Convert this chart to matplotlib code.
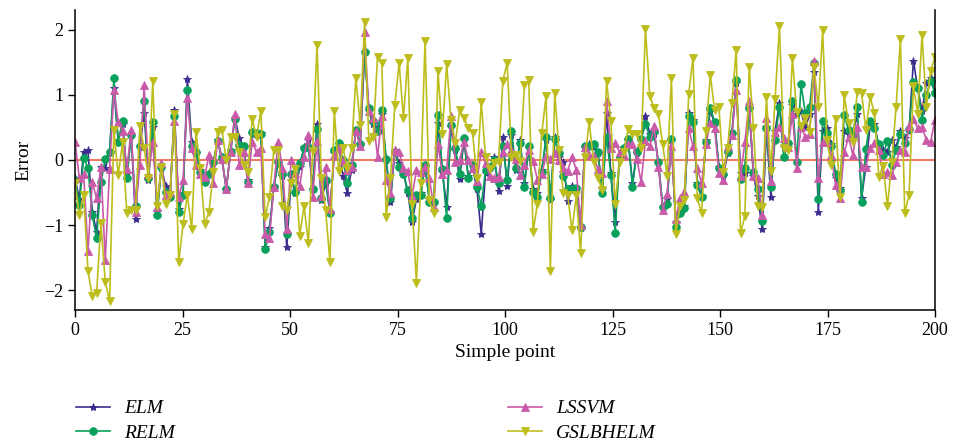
import numpy as np
import matplotlib
matplotlib.use("Agg")
import matplotlib.pyplot as plt

elm = [-0.28,-0.6,0.13,0.15,-0.8,-1.1,-0.1,-0.13,0.13,1.1,0.28,0.55,-0.2,0.38,-0.9,0.2,0.72,-0.3,0.5,-0.78,
       -0.12,-0.4,-0.55,0.76,-0.75,-0.5,1.24,0.28,0.1,-0.15,-0.3,-0.2,-0.05,0.3,0.0,-0.44,0.15,0.65,0.34,0.2,
       -0.3,0.4,0.38,0.42,-1.33,-1.05,-0.4,-0.05,-0.25,-1.34,-0.3,-0.5,-0.1,0.2,0.3,-0.45,0.55,-0.62,-0.35,-0.8,
       0.1,0.25,-0.25,-0.5,-0.15,0.45,0.25,1.65,0.75,0.55,0.5,0.7,0.0,-0.65,0.15,-0.05,-0.2,-0.5,-0.95,-0.6,
       -0.5,-0.1,-0.6,-0.65,0.56,-0.18,-0.72,0.5,0.15,-0.29,0.3,-0.25,-0.1,-0.45,-1.13,-0.2,-0.12,0.05,-0.47,0.35,
       -0.4,0.38,-0.15,0.3,-0.36,0.18,-0.45,-0.5,-0.15,0.3,-0.62,0.35,0.05,-0.03,-0.63,-0.4,-0.45,-1.05,0.2,0.25,
       0.2,0.1,-0.45,0.72,-0.2,-0.95,0.05,0.2,0.3,-0.35,0.1,0.3,0.68,0.4,0.4,-0.05,-0.72,-0.6,0.3,-0.95,
       -0.82,-0.7,0.72,0.62,-0.35,-0.55,0.3,0.75,0.57,-0.1,-0.25,0.1,0.4,1.18,-0.2,-0.2,0.8,-0.25,-0.55,-1.06,
       0.5,-0.56,0.45,0.87,0.2,0.25,0.84,0.7,0.75,0.5,0.7,1.35,-0.8,0.45,0.49,0.25,-0.28,-0.43,0.45,0.4,
       0.4,0.7,-0.58,-0.1,0.55,0.55,0.2,0.15,0.13,0.3,0.2,0.45,0.33,0.45,1.52,1.1,0.75,1.18,1.26,1.05]

relm = [-0.3,-0.69,0.03,-0.12,-0.85,-1.2,-0.34,0.02,0.13,1.25,0.28,0.6,-0.28,0.38,-0.7,0.22,0.91,-0.28,0.59,-0.84,
        -0.1,-0.49,-0.57,0.67,-0.8,-0.53,1.07,0.21,0.13,-0.18,-0.34,-0.22,-0.03,0.29,0.04,-0.44,0.12,0.63,0.23,0.22,
        -0.34,0.43,0.41,0.4,-1.37,-1.11,-0.41,-0.03,-0.22,-1.13,-0.22,-0.49,-0.05,0.18,0.2,-0.44,0.48,-0.58,-0.3,-0.82,
        0.15,0.26,0.0,-0.36,-0.07,0.46,0.25,1.65,0.79,0.6,0.44,0.76,0.02,-0.58,0.12,-0.1,-0.21,-0.46,-0.89,-0.53,
        -0.54,-0.08,-0.64,-0.64,0.69,-0.14,-0.89,0.54,0.19,-0.21,0.34,-0.28,-0.08,-0.41,-0.7,-0.15,-0.1,0.0,-0.36,0.21,
        -0.31,0.45,-0.13,0.26,-0.41,0.21,-0.49,-0.57,-0.18,0.35,-0.59,0.32,0.1,-0.24,-0.44,-0.44,-0.43,-1.02,0.21,0.22,
        0.24,0.13,-0.5,0.36,-0.23,-1.12,0.05,0.18,0.32,-0.41,0.13,0.32,0.55,0.36,0.44,-0.03,-0.72,-0.67,0.32,-1.02,
        -0.82,-0.74,0.67,0.58,-0.39,-0.57,0.28,0.8,0.59,-0.13,-0.22,0.13,0.41,1.22,-0.29,-0.12,0.79,-0.19,-0.44,-0.94,
        0.49,-0.41,0.31,0.82,0.05,0.26,0.91,-0.03,1.16,0.72,0.81,1.49,-0.6,0.6,0.41,0.22,-0.22,-0.46,0.69,0.46,
        0.39,0.81,-0.64,0.17,0.6,0.49,0.24,0.08,0.29,-0.07,0.15,0.4,0.26,0.48,1.19,1.1,0.62,1.0,1.21,1.03]

lssvm = [0.28,-0.28,-0.22,-1.39,-0.34,-0.59,-0.1,-1.54,-0.14,1.07,0.58,0.45,-0.14,0.46,-0.8,-0.08,1.15,-0.21,0.28,-0.72,
         -0.05,-0.54,-0.49,0.6,-0.57,-0.31,0.95,0.19,-0.07,-0.22,-0.26,0.08,-0.36,0.31,0.02,-0.44,0.12,0.71,-0.08,0.13,
         -0.36,0.28,0.12,0.19,-1.13,-1.2,-0.41,0.27,-0.12,-1.06,0.0,-0.2,-0.4,0.05,0.39,-0.57,0.29,-0.55,-0.1,-0.75,
         0.08,0.18,-0.02,-0.15,-0.1,0.44,0.21,1.96,0.75,0.65,0.05,0.67,-0.31,-0.5,0.15,0.12,-0.13,-0.17,-0.55,-0.16,
         -0.19,-0.1,-0.28,-0.72,0.25,-0.22,-0.15,0.67,-0.03,0.0,0.28,0.0,-0.12,-0.32,0.13,-0.05,-0.24,-0.28,-0.26,0.13,
         0.24,0.15,0.02,-0.23,-0.07,0.15,-0.01,-0.3,-0.22,0.06,0.01,0.1,0.0,-0.12,-0.17,0.05,-0.15,-1.0,0.2,0.08,
         0.06,-0.14,-0.2,0.91,0.18,0.26,0.12,0.08,0.24,0.24,0.02,-0.34,0.29,0.21,0.52,-0.1,-0.77,-0.52,0.21,-0.9,
         -0.59,-0.49,0.49,0.21,-0.13,-0.36,0.24,0.57,0.49,-0.2,-0.3,0.22,0.38,1.08,-0.25,0.27,0.9,-0.25,-0.27,-0.84,
         0.65,-0.32,0.43,0.5,0.33,0.2,0.7,-0.12,0.5,0.35,0.4,1.52,-0.27,0.27,0.28,0.08,-0.39,-0.59,0.12,0.35,
         0.08,0.5,-0.1,-0.1,0.19,0.26,0.15,-0.22,-0.18,-0.23,-0.03,0.15,0.13,0.52,0.63,0.49,0.5,0.31,0.28,0.62]

gslbhelm = [-0.36,-0.85,-0.53,-1.7,-2.09,-2.04,-0.96,-1.87,-2.16,0.46,-0.23,0.27,-0.82,-0.76,-0.76,0.52,0.18,-0.27,1.21,-0.71,
            -0.1,-0.67,-0.54,0.7,-1.57,-0.98,-0.54,-1.06,0.43,-0.13,-0.98,-0.8,-0.18,0.43,0.46,0.0,0.35,0.36,0.13,-0.08,
            -0.18,0.63,0.36,0.75,-0.88,-0.57,0.15,0.15,-0.7,-0.77,-0.36,-0.14,-1.16,-0.7,-1.28,0.14,1.77,-0.27,-0.77,-1.57,
            0.75,-0.17,0.19,-0.12,0.18,1.25,0.54,2.11,0.29,0.36,1.58,1.48,-0.88,-0.27,0.84,1.49,0.64,1.56,-0.67,-1.88,
            -0.36,1.83,-0.62,-0.82,1.36,0.4,1.47,0.62,0.26,0.76,0.65,0.49,0.41,-0.27,0.89,0.04,-0.14,-0.05,-0.03,1.21,
            1.49,0.05,0.08,-0.01,1.15,1.22,-1.11,-0.67,0.41,0.98,-1.7,1.03,0.15,-0.5,-0.54,-1.08,-0.54,-1.42,0.04,0.58,
            -0.03,-0.27,-0.46,1.21,0.6,-0.67,-0.03,0.12,0.48,0.4,0.4,0.19,2.01,0.98,0.8,0.71,0.24,-0.24,1.26,-1.13,
            -0.7,-0.62,1.01,1.57,-0.59,-0.81,0.44,1.3,0.77,0.81,-0.18,0.19,0.88,1.69,-1.12,-0.86,1.43,0.49,-0.71,-0.72,
            0.96,-0.17,0.94,2.05,0.18,0.15,1.56,0.74,0.52,0.65,0.43,1.43,0.81,1.99,0.31,-0.08,0.63,-0.57,0.99,0.57,
            0.28,1.05,1.03,0.46,0.96,0.72,-0.26,-0.09,-0.71,-0.03,0.82,1.86,-0.81,-0.54,1.13,0.71,1.92,0.82,1.37,1.58]

series_names = ["ELM", "RELM", "LSSVM", "GSLBHELM"]
x_ticks = [0, 25, 50, 75, 100, 125, 150, 175, 200]
y_ticks = [-2, -1, 0, 1, 2]

plt.rcParams['font.family'] = ['Liberation Serif', 'DejaVu Serif']

fig = plt.figure(figsize=(9.55, 4.46), dpi=100)
ax = fig.add_axes([75/955, 1 - 310/446, 860/955, 300/446])

n = len(gslbhelm)
x = np.linspace(0, 200, n)

ax.axhline(0, color='#f26b4f', lw=1.3, zorder=1)
styles = [
    (elm, '#3b2c8e', '*', 6),
    (relm, '#08a05a', 'o', 5.5),
    (lssvm, '#c95aa9', '^', 5.5),
    (gslbhelm, '#bdbd1e', 'v', 6),
]
handles = []
for (vals, c, m, ms), name in zip(styles, series_names):
    h, = ax.plot(x, vals, color=c, marker=m, ms=ms, lw=1.2, label=name, zorder=2,
                 markeredgewidth=0.6)
    handles.append(h)

ax.set_xlim(0, 200)
ax.set_ylim(-2.3, 2.3)
ax.set_xticks(x_ticks)
ax.set_yticks(y_ticks)
ax.set_yticklabels(['\u22122', '\u22121', '0', '1', '2'])
ax.tick_params(direction='out', length=5, width=1, labelsize=13)
ax.spines['top'].set_visible(False)
for s in ['left', 'bottom', 'right']:
    ax.spines[s].set_linewidth(1.1)
ax.set_xlabel('Simple point', fontsize=14, labelpad=4)
ax.set_ylabel('Error', fontsize=14, labelpad=8)

fig.legend(handles=handles, labels=series_names, loc='upper left',
           bbox_to_anchor=(68/955, 1 - 392/446), ncol=2, frameon=False,
           prop={'style': 'italic', 'size': 14}, handlelength=1.75,
           handletextpad=0.75, columnspacing=17.1, labelspacing=0.35,
           borderaxespad=0.0)

fig.savefig('out.png', dpi=100)
